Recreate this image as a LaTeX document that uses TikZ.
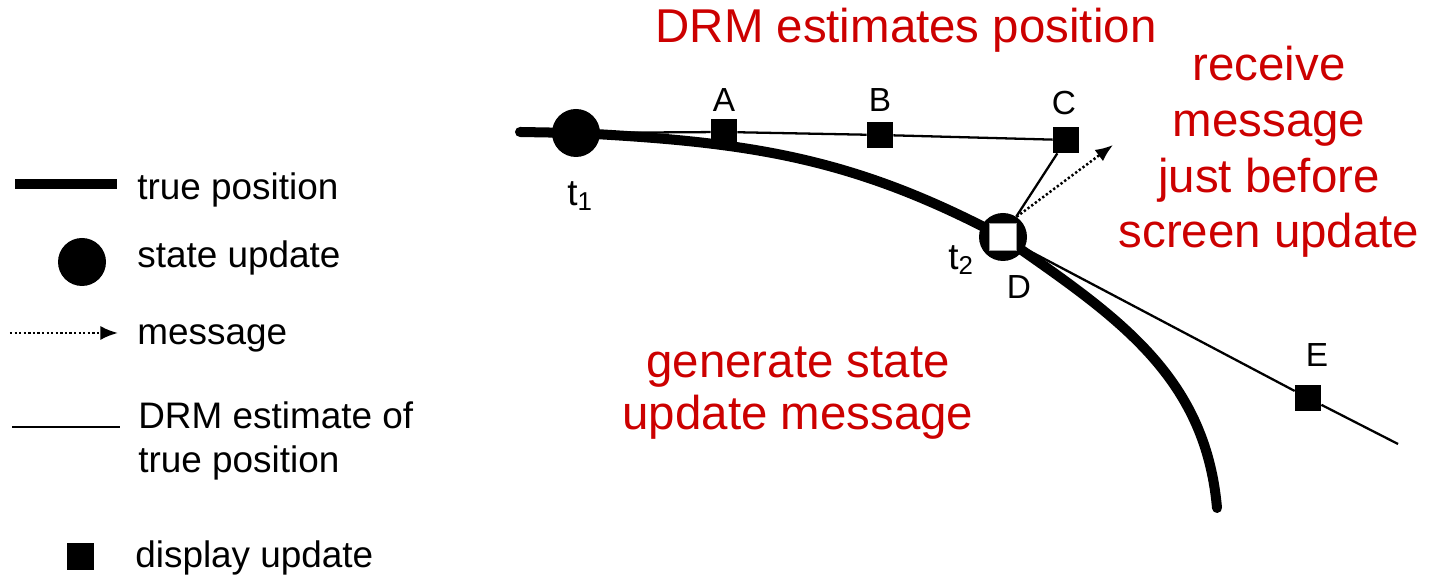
\documentclass[tikz,border=0pt]{standalone}
\usepackage{fontspec}
\setmainfont{Liberation Sans}
\usepackage{xcolor}
\usetikzlibrary{arrows.meta,positioning}
\definecolor{DrmRed}{HTML}{CC0000}
\definecolor{DrmGrey}{HTML}{9A9A9A}

\begin{document}
\begin{tikzpicture}[>=Latex,
    truepath/.style={line width=5.7pt},
    estpath/.style={line width=1.3pt},
    msgpath/.style={line width=1.4pt,dash pattern=on 1.3pt off 1.3pt,
      -{Latex[length=10pt,width=8pt]}},
    stateupd/.style={circle,fill=black,minimum size=0.96cm,inner sep=0pt},
    dispupd/.style={rectangle,fill=black,minimum size=0.52cm,inner sep=0pt},
    ptlabel/.style={inner sep=0pt,font=\fontsize{19}{23}\selectfont},
    tlabel/.style={inner sep=0pt,font=\fontsize{21}{25}\selectfont},
    keytext/.style={anchor=base west,inner sep=0pt,align=left,
      font=\fontsize{21}{25.5}\selectfont},
    note/.style={anchor=base,text=DrmRed,align=center,inner sep=0pt,
      font=\fontsize{27}{31.8}\selectfont}]
  \useasboundingbox (0,0) rectangle (28.6,11.56);

  % legend
  \draw[truepath] (0.3,7.88) -- (2.34,7.88);
  \node[keytext] (keytrue) at (2.74,7.56) {true position};
  \node[stateupd] (keystate) at (1.64,6.32) {};
  \node[keytext] (keystatetxt) at (2.74,6.2) {state update};
  \draw[msgpath] (0.2,4.9) -- (2.36,4.9);
  \node[keytext] (keymsg) at (2.74,4.66) {message};
  \draw[estpath] (0.24,3.02) -- (2.4,3.02);
  \node[keytext] (keyest) at (2.76,2.1) {DRM estimate of\\true position};
  \node[dispupd,minimum size=0.54cm] (keydisp) at (1.6,0.42) {};
  \node[keytext] (keydisptxt) at (2.7,0.2) {display update};

  % updates along the track
  \node[stateupd] (t1) at (11.52,8.9) {};
  \node[stateupd] (D) at (20.06,6.82) {};
  \node[dispupd] (A) at (14.48,8.92) {};
  \node[dispupd] (B) at (17.6,8.86) {};
  \node[dispupd] (C) at (21.32,8.76) {};
  \node[dispupd] (E) at (26.16,3.6) {};
  \coordinate (trackstart) at (10.4,8.92);
  \coordinate (trackend) at (24.34,1.4);
  \coordinate (msgtip) at (22.26,8.66);
  \coordinate (estend) at (27.96,2.68);

  % true position
  \draw[truepath,line cap=round] (trackstart) -- (t1.center)
    to[out=-3,in=152] (D.center) to[out=-35,in=95] (trackend);

  % dead reckoning estimates
  \draw[estpath] (t1) -- (A) -- (B) -- (C) -- (D);
  \draw[estpath] (D) -- (E) -- (estend);
  \node[rectangle,fill=white,draw=DrmGrey,line width=0.4pt,minimum size=0.54cm,
    inner sep=0pt] (Dbox) at (D) {};
  \draw[msgpath] (D.56) -- (msgtip);

  % point labels
  \node[tlabel] (t1lbl) at (11.6,7.64) {t\textsubscript{1}};
  \node[tlabel] (t2lbl) at (19.22,6.36) {t\textsubscript{2}};
  \node[ptlabel] (Albl) at (14.48,9.56) {A};
  \node[ptlabel] (Blbl) at (17.6,9.56) {B};
  \node[ptlabel] (Clbl) at (21.28,9.5) {C};
  \node[ptlabel] (Dlbl) at (20.38,5.82) {D};
  \node[ptlabel] (Elbl) at (26.34,4.46) {E};

  % notes
  \node[note] (drmnote) at (18.12,10.7) {DRM estimates position};
  \node[note] (recvnote) at (25.38,6.6) {receive\\message\\just before\\screen update};
  \node[note,font=\fontsize{27}{30}\selectfont] (gennote) at (15.96,2.96)
    {generate state\\update message};
\end{tikzpicture}
\end{document}
